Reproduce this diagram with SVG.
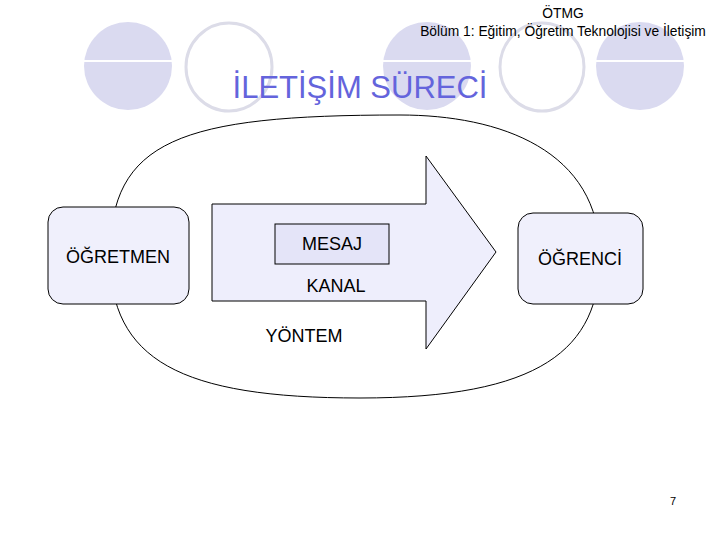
<svg xmlns="http://www.w3.org/2000/svg" width="720" height="540" viewBox="0 0 720 540">
<style>
  .deco-fill { fill: #dadaf0; }
  .deco-ring { fill: none; stroke: #dcdce8; stroke-width: 3; }
  .deco-line { stroke: #ffffff; stroke-width: 2; }
  .box { fill: #f0f0fc; stroke: #000; stroke-width: 1; }
  .lbl { font-family: "Liberation Sans", Arial, sans-serif; font-size: 18px; fill: #000; text-anchor: middle; }
  .hdr { font-family: "Liberation Sans", Arial, sans-serif; font-size: 13.8px; fill: #000; text-anchor: middle; }
  .conn { fill: none; stroke: #000; stroke-width: 1; }
</style>
<rect width="720" height="540" fill="#ffffff"/>
<g id="decoration">
  <ellipse class="deco-fill" cx="128" cy="66" rx="44" ry="44"/>
  <line class="deco-line" x1="84" y1="61" x2="172" y2="61"/>
  <ellipse class="deco-ring" cx="229" cy="67" rx="43" ry="44"/>
  <ellipse class="deco-fill" cx="427" cy="66" rx="44" ry="44"/>
  <line class="deco-line" x1="383" y1="61" x2="471" y2="61"/>
  <ellipse class="deco-ring" cx="542" cy="67" rx="42" ry="44"/>
  <ellipse class="deco-fill" cx="640" cy="66" rx="44" ry="44"/>
  <line class="deco-line" x1="596" y1="61" x2="684" y2="61"/>
</g>
<g id="header">
  <text class="hdr" x="563" y="18">ÖTMG</text>
  <text class="hdr" x="563" y="36">Bölüm 1: Eğitim, Öğretim Teknolojisi ve İletişim</text>
</g>
<text id="title" x="360" y="98" font-family="'Liberation Sans', Arial, sans-serif" font-size="31" fill="#6464dc" text-anchor="middle">İLETİŞİM SÜRECİ</text>
<g id="connectors">
  <path class="conn" d="M110,256 C110,140 180,115 400,115 C500,115 600,150 600,256 C600,350 540,398 360,398 C180,398 110,360 110,256 Z"/>
</g>
<g id="kanal">
  <polygon points="212,204 426,204 426,156 496,252 426,349 426,301 212,301" fill="#eeeefc" stroke="#000" stroke-width="1"/>
  <text class="lbl" x="336" y="292">KANAL</text>
</g>
<g id="mesaj">
  <rect x="275" y="224" width="114" height="40" fill="#e4e4f8" stroke="#000" stroke-width="1"/>
  <text class="lbl" x="332" y="250">MESAJ</text>
</g>
<g id="ogretmen">
  <rect class="box" x="48" y="207" width="141" height="97" rx="15" ry="15"/>
  <text class="lbl" x="118" y="263">ÖĞRETMEN</text>
</g>
<g id="ogrenci">
  <rect class="box" x="518" y="213" width="125" height="91" rx="15" ry="15"/>
  <text class="lbl" x="580" y="265">ÖĞRENCİ</text>
</g>
<g id="yontem">
  <text class="lbl" x="304" y="342">YÖNTEM</text>
</g>
<text id="page" x="673" y="505" font-family="'Liberation Sans', Arial, sans-serif" font-size="11" fill="#000" text-anchor="middle">7</text>
</svg>
